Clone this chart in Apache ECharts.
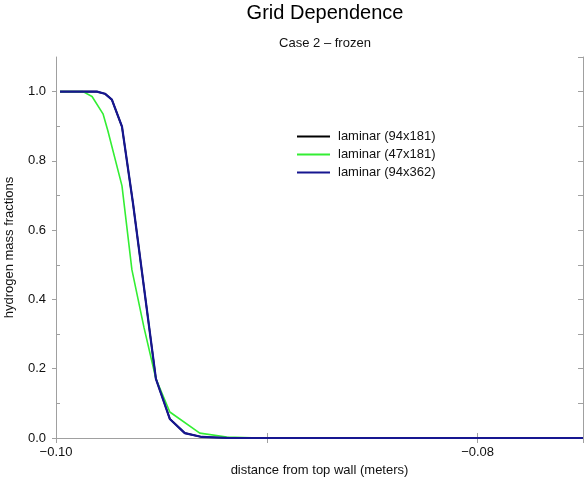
<!DOCTYPE html>
<html>
<head>
<meta charset="utf-8">
<script src="https://cdn.jsdelivr.net/npm/echarts@6/dist/echarts.min.js"></script>
<style>html,body{margin:0;padding:0;background:#fff}#c{width:584px;height:486px}</style>
</head>
<body>
<div id="c"></div>
<script>
var seriesNames = ['laminar (94x181)', 'laminar (47x181)', 'laminar (94x362)'];
var fineX = [-0.09981, -0.09806, -0.09768, -0.09735, -0.09687, -0.09635, -0.09526, -0.09460, -0.09389, -0.09308, -0.09175, -0.0900, -0.0850, -0.0800, -0.0750];
var fineY = [1.0, 1.0, 0.994, 0.977, 0.899, 0.679, 0.171, 0.055, 0.014, 0.003, 0.0, 0.0, 0.0, 0.0, 0.0];
var coarseX = [-0.09981, -0.09872, -0.09829, -0.09777, -0.09754, -0.09687, -0.09640, -0.09583, -0.09526, -0.09460, -0.09318, -0.09190, -0.09033, -0.0850, -0.0800, -0.0750];
var coarseY = [1.0, 1.0, 0.986, 0.936, 0.887, 0.728, 0.486, 0.32, 0.171, 0.075, 0.014, 0.003, 0.0, 0.0, 0.0, 0.0];
var fine2X = [-0.09981, -0.09806, -0.09768, -0.09735, -0.09687, -0.09635, -0.09526, -0.09460, -0.09389, -0.09308, -0.09175, -0.0900, -0.0850, -0.0800, -0.0750];
var fine2Y = [1.0, 1.0, 0.994, 0.977, 0.899, 0.679, 0.171, 0.055, 0.014, 0.003, 0.0, 0.0, 0.0, 0.0, 0.0];
var xTickLabels = ['−0.10', '−0.08'];
var yTickLabels = ['0.0', '0.2', '0.4', '0.6', '0.8', '1.0'];

function pairs(xs, ys) { return xs.map(function (x, i) { return [x, ys[i]]; }); }

var font = 'Liberation Sans, Arial, sans-serif';
var axisGrey = '#a0a0a0';
var chart = echarts.init(document.getElementById('c'), null, {renderer: 'canvas'});
var xFmt = function (v) {
  var s = v.toFixed(2);
  if (Math.abs(v) < 1e-9) s = '0.00';
  return s.replace('-', '−');
};
var commonX = {
  type: 'value', min: -0.1, max: -0.075, interval: 0.02,
  splitLine: {show: false},
  axisLine: {show: true, lineStyle: {color: axisGrey, width: 1}},
  minorTick: {show: true, splitNumber: 2, length: 5, lineStyle: {color: axisGrey}},
  axisTick: {show: true, inside: true, length: 5, lineStyle: {color: axisGrey}}
};
var commonY = {
  type: 'value', min: 0, max: 1.1, interval: 0.2,
  splitLine: {show: false},
  axisLine: {show: true, lineStyle: {color: axisGrey, width: 1}}
};
chart.setOption({
  backgroundColor: '#ffffff',
  animation: false,
  title: [
    {text: 'Grid Dependence', left: 320, top: -2, textAlign: 'center',
     textStyle: {fontFamily: font, fontSize: 20, fontWeight: 'normal', color: '#000'}},
    {text: 'Case 2 – frozen', left: 320, top: 32, textAlign: 'center',
     textStyle: {fontFamily: font, fontSize: 13, fontWeight: 'normal', color: '#111'}}
  ],
  legend: {
    orient: 'vertical', left: 292, top: 125,
    itemWidth: 33, itemHeight: 12, itemGap: 5,
    icon: 'path://M0,0L33,0L33,2L0,2Z',
    itemStyle: {borderWidth: 0},
    data: seriesNames,
    textStyle: {fontFamily: font, fontSize: 13, color: '#111', padding: [0, 0, 0, 3]}
  },
  grid: {left: 56, right: 1, top: 57, bottom: 48, containLabel: false, outerBoundsMode: 'none'},
  xAxis: [
    Object.assign({}, commonX, {
      position: 'bottom',
      name: 'distance from top wall (meters)', nameLocation: 'middle', nameGap: 26,
      nameTextStyle: {fontFamily: font, fontSize: 13, color: '#111'},
      axisLabel: {show: true, showMaxLabel: false, formatter: xFmt, margin: 8,
                  fontFamily: font, fontSize: 13, color: '#111'}
    }),
    Object.assign({}, commonX, {position: 'top', axisLabel: {show: false}})
  ],
  yAxis: [
    Object.assign({}, commonY, {
      position: 'left',
      name: 'hydrogen mass fractions', nameLocation: 'middle', nameGap: 40, nameRotate: 90,
      nameTextStyle: {fontFamily: font, fontSize: 13, color: '#111'},
      axisTick: {show: true, inside: false, length: 4, lineStyle: {color: axisGrey}},
      axisLabel: {show: true, showMaxLabel: false, margin: 10,
                  formatter: function (v) { return v.toFixed(1); },
                  fontFamily: font, fontSize: 13, color: '#111'}
    }),
    Object.assign({}, commonY, {
      position: 'right',
      axisTick: {show: true, inside: true, length: 5, lineStyle: {color: axisGrey}},
      minorTick: {show: true, splitNumber: 2, length: 5, lineStyle: {color: axisGrey}},
      axisLabel: {show: false}
    }),
    Object.assign({}, commonY, {
      position: 'left', offset: 0,
      axisLine: {show: false},
      axisTick: {show: false, inside: true, length: 4},
      minorTick: {show: true, splitNumber: 2, length: 4, lineStyle: {color: axisGrey}},
      axisLabel: {show: false}
    })
  ],
  series: [
    {name: seriesNames[0], type: 'line', data: pairs(fineX, fineY), symbol: 'none',
     lineStyle: {color: '#000000', width: 1.6}, itemStyle: {color: '#000000'}, z: 2},
    {name: seriesNames[1], type: 'line', data: pairs(coarseX, coarseY), symbol: 'none',
     lineStyle: {color: '#33ee33', width: 1.6}, itemStyle: {color: '#33ee33'}, z: 3},
    {name: seriesNames[2], type: 'line', data: pairs(fine2X, fine2Y), symbol: 'none',
     lineStyle: {color: '#161690', width: 2.2}, itemStyle: {color: '#161690'}, z: 4}
  ]
});
</script>
</body>
</html>
